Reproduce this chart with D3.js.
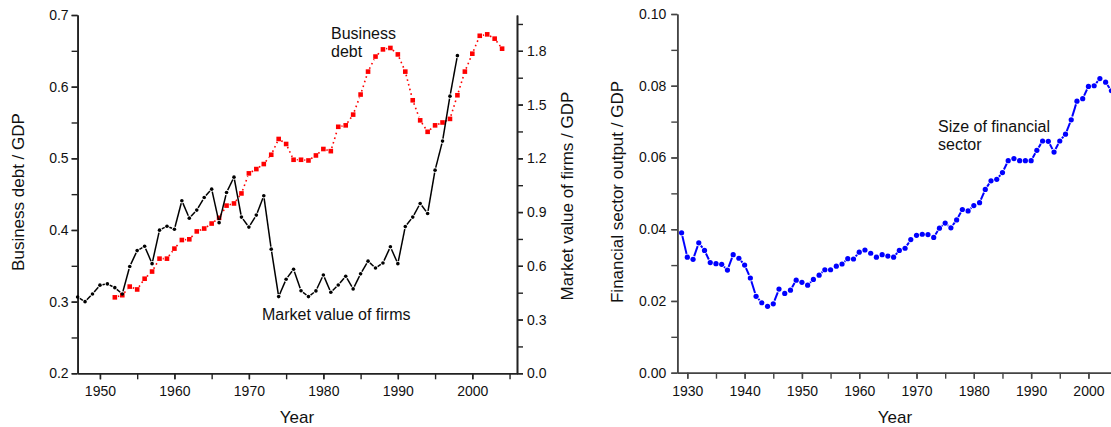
<!DOCTYPE html>
<html>
<head>
<meta charset="utf-8">
<script src="https://cdn.jsdelivr.net/npm/d3@7"></script>
<style>
  body { margin: 0; background: #fff; }
  svg { display: block; font-family: "Liberation Sans", Arial, sans-serif; }
</style>
</head>
<body>
<div id="chart"></div>
<script>
// Business debt / GDP (left chart, left axis)
const debtYears = d3.range(1952, 2005);
const debtValues = [0.306, 0.309, 0.321, 0.317, 0.332, 0.342, 0.360, 0.360, 0.374, 0.386,
    0.387, 0.398, 0.402, 0.409, 0.417, 0.434, 0.437, 0.451, 0.479, 0.485,
    0.492, 0.505, 0.527, 0.520, 0.498, 0.498, 0.497, 0.504, 0.513, 0.510,
    0.544, 0.546, 0.561, 0.589, 0.621, 0.642, 0.652, 0.654, 0.645, 0.621,
    0.581, 0.553, 0.537, 0.546, 0.550, 0.555, 0.588, 0.621, 0.646, 0.671,
    0.673, 0.667, 0.653];

// Market value of firms / GDP (left chart, right axis)
const marketYears = d3.range(1947, 1999);
const marketValues = [0.426, 0.400, 0.443, 0.492, 0.499, 0.478, 0.443, 0.596, 0.685, 0.709,
    0.612, 0.799, 0.821, 0.804, 0.963, 0.866, 0.911, 0.981, 1.028, 0.841,
    1.009, 1.095, 0.872, 0.816, 0.883, 0.991, 0.693, 0.428, 0.525, 0.581,
    0.461, 0.428, 0.460, 0.549, 0.452, 0.493, 0.542, 0.471, 0.555, 0.626,
    0.588, 0.616, 0.706, 0.612, 0.819, 0.872, 0.948, 0.892, 1.134, 1.296,
    1.547, 1.773];

// Financial sector output / GDP (right chart)
const finYears = d3.range(1929, 2005);
const finValues = [0.0390, 0.0322, 0.0316, 0.0362, 0.0341, 0.0307, 0.0304, 0.0302, 0.0286, 0.0329,
    0.0319, 0.0300, 0.0264, 0.0213, 0.0195, 0.0185, 0.0192, 0.0233, 0.0221, 0.0230,
    0.0258, 0.0252, 0.0244, 0.0260, 0.0272, 0.0287, 0.0287, 0.0297, 0.0303, 0.0318,
    0.0317, 0.0336, 0.0342, 0.0333, 0.0322, 0.0329, 0.0325, 0.0322, 0.0341, 0.0347,
    0.0371, 0.0383, 0.0386, 0.0385, 0.0377, 0.0403, 0.0417, 0.0404, 0.0426, 0.0455,
    0.0451, 0.0466, 0.0474, 0.0511, 0.0535, 0.0539, 0.0558, 0.0591, 0.0597, 0.0591,
    0.0591, 0.0591, 0.0620, 0.0646, 0.0645, 0.0615, 0.0646, 0.0665, 0.0705, 0.0757,
    0.0764, 0.0798, 0.0800, 0.0820, 0.0810, 0.0786];

// Tick labels
const leftTicks = [0.2, 0.3, 0.4, 0.5, 0.6, 0.7];
const rightTicks = [0.0, 0.3, 0.6, 0.9, 1.2, 1.5, 1.8];
const leftYearTicks = [1950, 1960, 1970, 1980, 1990, 2000];
const finTicks = [0.00, 0.02, 0.04, 0.06, 0.08, 0.10];
const finYearTicks = [1930, 1940, 1950, 1960, 1970, 1980, 1990, 2000];

const W = 1111, H = 427;
const svg = d3.select('#chart').append('svg')
    .attr('width', W).attr('height', H);

// Draw line pieces between points, leaving a small gap round each marker
function gappedLine(g, pts, gap, stroke, width, dash) {
    for (let i = 1; i < pts.length; i++) {
        const [x0, y0] = pts[i - 1], [x1, y1] = pts[i];
        const dx = x1 - x0, dy = y1 - y0, len = Math.hypot(dx, dy);
        if (len <= 2 * gap + 0.5) continue;
        const ux = dx / len, uy = dy / len;
        g.append('line')
            .attr('x1', x0 + ux * gap).attr('y1', y0 + uy * gap)
            .attr('x2', x1 - ux * gap).attr('y2', y1 - uy * gap)
            .attr('stroke', stroke)
            .attr('stroke-width', width)
            .attr('stroke-dasharray', dash || null)
            .attr('stroke-linecap', 'butt');
    }
}

function styleAxis(sel, color, size) {
    sel.selectAll('path.domain').attr('stroke', color).attr('stroke-width', 1.6);
    sel.selectAll('.tick line').attr('stroke', color).attr('stroke-width', 1.4);
    sel.selectAll('.tick text').attr('fill', '#111').style('font-size', size + 'px')
        .style('font-family', '"Liberation Sans", Arial, sans-serif');
}

// ---------- Left chart ----------
const x1 = d3.scaleLinear().domain([1947, 2006]).range([77.6, 517]);
const yL = d3.scaleLinear().domain([0.2, 0.7]).range([373.3, 15]);
const yR = d3.scaleLinear().domain([0, 2]).range([373.3, 15]);

const left = svg.append('g');

// minor ticks
left.append('g').attr('transform', 'translate(0,373.3)')
    .call(d3.axisBottom(x1).tickValues(d3.range(1950, 2006, 5)).tickSize(6).tickFormat('').tickSizeOuter(0))
    .call(s => styleAxis(s, '#222', 14));
left.append('g').attr('transform', 'translate(0,373.3)')
    .call(d3.axisBottom(x1).tickValues(leftYearTicks).tickSize(6).tickPadding(7).tickFormat(d3.format('d')).tickSizeOuter(0))
    .call(s => styleAxis(s, '#222', 14));

left.append('g').attr('transform', 'translate(77.6,0)')
    .call(d3.axisLeft(yL).tickValues(d3.range(0.2, 0.7001, 0.05)).tickSize(6).tickFormat('').tickSizeOuter(0))
    .call(s => styleAxis(s, '#222', 14));
left.append('g').attr('transform', 'translate(77.6,0)')
    .call(d3.axisLeft(yL).tickValues(leftTicks).tickSize(6).tickPadding(3).tickFormat(d3.format('.1f')).tickSizeOuter(0))
    .call(s => styleAxis(s, '#222', 14));

left.append('g').attr('transform', 'translate(517,0)')
    .call(d3.axisRight(yR).tickValues(d3.range(0, 1.96, 0.15)).tickSize(6).tickFormat('').tickSizeOuter(0))
    .call(s => styleAxis(s, '#222', 14));
left.append('g').attr('transform', 'translate(517,0)')
    .call(d3.axisRight(yR).tickValues(rightTicks).tickSize(6).tickPadding(4).tickFormat(d3.format('.1f')).tickSizeOuter(0))
    .call(s => styleAxis(s, '#222', 14));

// Business debt: dotted red with square markers
const debtPts = debtYears.map((yr, i) => [x1(yr), yL(debtValues[i])]);
gappedLine(left, debtPts, 3.2, '#ff0000', 1.6, '1.6,3.2');
left.selectAll('rect.debt').data(debtPts).join('rect')
    .attr('class', 'debt')
    .attr('x', d => d[0] - 2.3).attr('y', d => d[1] - 2.3)
    .attr('width', 4.6).attr('height', 4.6)
    .attr('fill', '#ff0000');

// Market value of firms: black line with small dots
const mktPts = marketYears.map((yr, i) => [x1(yr), yR(marketValues[i])]);
gappedLine(left, mktPts, 2.6, '#000', 1.5);
left.selectAll('circle.mkt').data(mktPts).join('circle')
    .attr('class', 'mkt')
    .attr('cx', d => d[0]).attr('cy', d => d[1]).attr('r', 1.8)
    .attr('fill', '#000');

// Labels
left.append('text').attr('x', 331).attr('y', 39)
    .style('font-size', '16px').attr('fill', '#111').text('Business');
left.append('text').attr('x', 331).attr('y', 57)
    .style('font-size', '16px').attr('fill', '#111').text('debt');
left.append('text').attr('x', 262).attr('y', 320)
    .style('font-size', '16px').attr('fill', '#111').text('Market value of firms');

left.append('text').attr('x', 297).attr('y', 423).attr('text-anchor', 'middle')
    .style('font-size', '17px').attr('fill', '#111').text('Year');
left.append('text').attr('transform', 'translate(24,192) rotate(-90)').attr('text-anchor', 'middle')
    .style('font-size', '17px').attr('fill', '#111').text('Business debt / GDP');
left.append('text').attr('transform', 'translate(573,196) rotate(-90)').attr('text-anchor', 'middle')
    .style('font-size', '17px').attr('fill', '#111').text('Market value of firms / GDP');

// ---------- Right chart ----------
const x2 = d3.scaleLinear().domain([1928.25, 2006]).range([677.3, 1122.8]);
const yF = d3.scaleLinear().domain([0, 0.1]).range([372.7, 14]);

const right = svg.append('g');

right.append('g').attr('transform', 'translate(0,372.7)')
    .call(d3.axisBottom(x2).tickValues(d3.range(1930, 2006, 5)).tickSize(6).tickFormat('').tickSizeOuter(0))
    .call(s => styleAxis(s, '#444', 14));
right.append('g').attr('transform', 'translate(0,372.7)')
    .call(d3.axisBottom(x2).tickValues(finYearTicks).tickSize(6).tickPadding(7).tickFormat(d3.format('d')).tickSizeOuter(0))
    .call(s => styleAxis(s, '#444', 14));

right.append('g').attr('transform', 'translate(677.3,0)')
    .call(d3.axisLeft(yF).tickValues(d3.range(0, 0.1001, 0.01)).tickSize(6).tickFormat('').tickSizeOuter(0))
    .call(s => styleAxis(s, '#444', 14));
right.append('g').attr('transform', 'translate(677.3,0)')
    .call(d3.axisLeft(yF).tickValues(finTicks).tickSize(6).tickPadding(5).tickFormat(d3.format('.2f')).tickSizeOuter(0))
    .call(s => styleAxis(s, '#444', 14));

const finPts = finYears.map((yr, i) => [x2(yr), yF(finValues[i])]);
gappedLine(right, finPts, 3.4, '#0000ff', 2);
right.selectAll('circle.fin').data(finPts).join('circle')
    .attr('class', 'fin')
    .attr('cx', d => d[0]).attr('cy', d => d[1]).attr('r', 2.6)
    .attr('fill', '#0000ff');

right.append('text').attr('x', 938).attr('y', 132)
    .style('font-size', '16px').attr('fill', '#111').text('Size of financial');
right.append('text').attr('x', 938).attr('y', 150)
    .style('font-size', '16px').attr('fill', '#111').text('sector');

right.append('text').attr('x', 895).attr('y', 423).attr('text-anchor', 'middle')
    .style('font-size', '17px').attr('fill', '#111').text('Year');
right.append('text').attr('transform', 'translate(623,192) rotate(-90)').attr('text-anchor', 'middle')
    .style('font-size', '17px').attr('fill', '#111').text('Financial sector output / GDP');
</script>
</body>
</html>
